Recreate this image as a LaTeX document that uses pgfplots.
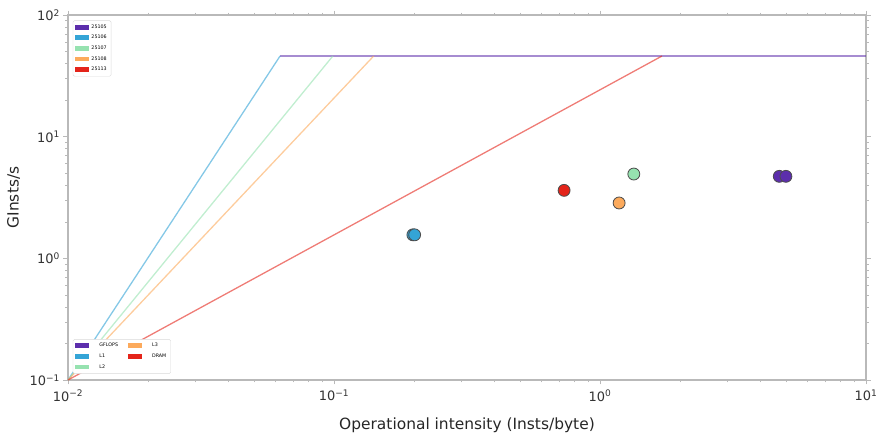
\documentclass[border=0pt]{standalone}
\usepackage{pgfplots}
\pgfplotsset{compat=1.18}
\usepackage{fontspec}
\setmainfont{DejaVu Sans}
\definecolor{cA}{RGB}{92,46,172}
\definecolor{cB}{RGB}{52,164,214}
\definecolor{cC}{RGB}{150,226,176}
\definecolor{cD}{RGB}{252,170,92}
\definecolor{cE}{RGB}{228,36,26}
\definecolor{frame}{RGB}{185,185,185}
\begin{document}
\begin{tikzpicture}
\begin{axis}[
  xmode=log, ymode=log,
  scale only axis, width=798bp, height=365bp,
  xmin=0.01, xmax=10, ymin=0.1, ymax=100,
  legend cell align=left,
  legend image code/.code={\fill[#1, sharp corners] (0bp,-2.4bp) rectangle (14bp,2.4bp);},
  legend style={font=\fontsize{4.8}{6}\selectfont, draw=gray!30, fill=white, rounded corners=1.5bp,
      inner xsep=2.5bp, inner ysep=2bp, row sep=1.6bp, column sep=8bp,
      at={(0.006,0.017)}, anchor=south west},
  axis line style={frame, line width=1.3bp},
  tick align=outside,
  major tick length=4.5bp, minor tick length=2.5bp,
  every tick/.style={frame},
  xtick={0.01,0.1,1,10},
  xticklabels={10\textsuperscript{−2},10\textsuperscript{−1},10\textsuperscript{0},10\textsuperscript{1}},
  ytick={0.1,1,10,100},
  yticklabels={10\textsuperscript{−1},10\textsuperscript{0},10\textsuperscript{1},10\textsuperscript{2}},
  tick label style={font=\fontsize{13}{15}\selectfont, text=black!80},
  xticklabel style={yshift=-2bp},
  xlabel={Operational intensity (Insts/byte)},
  ylabel={GInsts/s},
  label style={font=\fontsize{15.5}{18}\selectfont, text=black!85},
  xlabel style={at={(axis description cs:0.5,-0.123)}, anchor=center},
  ylabel style={at={(axis description cs:-0.068,0.5)}, anchor=center},
  legend columns=2,
]
\addplot[cA, opacity=0.55, line width=1.1bp, forget plot] coordinates {(0.0627,46) (10,46)};
\addplot[cB, opacity=0.6, line width=1.3bp, forget plot] coordinates {(0.01,0.1) (0.0627,46)};
\addplot[cC, opacity=0.6, line width=1.3bp, forget plot] coordinates {(0.01,0.1) (0.099,46)};
\addplot[cD, opacity=0.6, line width=1.3bp, forget plot] coordinates {(0.01,0.1) (0.141,46)};
\addplot[cE, opacity=0.6, line width=1.3bp, forget plot] coordinates {(0.01,0.1) (1.71,46)};
\addlegendimage{fill=cA, draw=none}
\addlegendentry{GFLOPS}
\addlegendimage{fill=cD, draw=none}
\addlegendentry{L3}
\addlegendimage{fill=cB, draw=none}
\addlegendentry{L1}
\addlegendimage{fill=cE, draw=none}
\addlegendentry{DRAM}
\addlegendimage{fill=cC, draw=none}
\addlegendentry{L2}
\coordinate (tl) at ([xshift=-68bp,yshift=15bp]rel axis cs:0,1);
\coordinate (br) at ([xshift=14bp,yshift=-56bp]rel axis cs:1,0);
\end{axis}
\begin{axis}[
  xmode=log, ymode=log,
  scale only axis, width=798bp, height=365bp,
  xmin=0.01, xmax=10, ymin=0.1, ymax=100,
  hide axis,
  legend cell align=left,
  legend image code/.code={\fill[#1, sharp corners] (0bp,-2.4bp) rectangle (14bp,2.4bp);},
  legend style={font=\fontsize{4.8}{6}\selectfont, draw=gray!30, fill=white, rounded corners=1.5bp,
      inner xsep=2.5bp, inner ysep=2bp, row sep=1.6bp,
      at={(0.006,0.985)}, anchor=north west},
]
\addplot[only marks, mark=*, mark size=6pt, mark options={fill=cA, draw=black!70, line width=0.8bp}, forget plot] coordinates {(4.72,4.72) (5.0,4.72)};
\addplot[only marks, mark=*, mark size=6pt, mark options={fill=cB, draw=black!70, line width=0.8bp}, forget plot] coordinates {(0.198,1.56) (0.201,1.56)};
\addplot[only marks, mark=*, mark size=6pt, mark options={fill=cC, draw=black!70, line width=0.8bp}, forget plot] coordinates {(1.34,4.93)};
\addplot[only marks, mark=*, mark size=6pt, mark options={fill=cD, draw=black!70, line width=0.8bp}, forget plot] coordinates {(1.18,2.85)};
\addplot[only marks, mark=*, mark size=6pt, mark options={fill=cE, draw=black!70, line width=0.8bp}, forget plot] coordinates {(0.733,3.62)};
\addlegendimage{fill=cA, draw=none}
\addlegendentry{25105}
\addlegendimage{fill=cB, draw=none}
\addlegendentry{25106}
\addlegendimage{fill=cC, draw=none}
\addlegendentry{25107}
\addlegendimage{fill=cD, draw=none}
\addlegendentry{25108}
\addlegendimage{fill=cE, draw=none}
\addlegendentry{25113}
\end{axis}
\pgfresetboundingbox
\path[use as bounding box] (tl) rectangle (br);
\end{tikzpicture}
\end{document}
